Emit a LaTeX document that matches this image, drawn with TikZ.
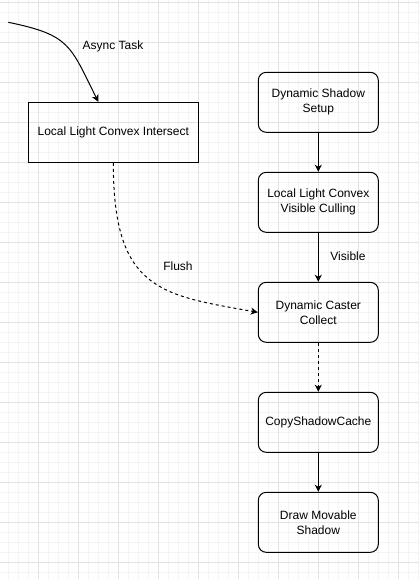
\documentclass[tikz,border=0pt]{standalone}
\usepackage{fontspec}
\setmainfont{Liberation Sans}
\usetikzlibrary{arrows.meta}
\definecolor{gridminor}{HTML}{F4F4F4}
\definecolor{gridmajor}{HTML}{E2E2E2}

\begin{document}
\begin{tikzpicture}[x=1pt,y=-1pt,font=\fontsize{12}{15}\selectfont,
    >={Stealth[length=7pt,width=7pt,inset=2pt]},
    flowbox/.style={draw,line width=1pt,rectangle,align=center,inner sep=0pt,
      minimum width=120pt,minimum height=60pt,rounded corners=8pt},
    taskbox/.style={draw,line width=1pt,rectangle,align=center,inner sep=0pt,
      minimum width=170pt,minimum height=60pt},
    flowline/.style={line width=1pt,->},
    edgelabel/.style={inner sep=0pt}]
      \useasboundingbox (0,0) rectangle (419,579);
      \fill[white] (0,0) rectangle (419,579);
      % grid
      \foreach \gx in {-1.7,8.3,...,420} \draw[gridminor,line width=1pt] (\gx,0) -- (\gx,579);
      \foreach \gy in {2.3,12.3,...,580} \draw[gridminor,line width=1pt] (0,\gy) -- (419,\gy);
      \foreach \gx in {38.3,78.3,...,420} \draw[gridmajor,line width=1pt] (\gx,0) -- (\gx,579);
      \foreach \gy in {2.3,42.3,...,580} \draw[gridmajor,line width=1pt] (0,\gy) -- (419,\gy);
      % nodes
      \node[taskbox] (intersect) at (113.3, 132.3) {Local Light Convex Intersect};
      \node[flowbox] (setup) at (318.3, 102.3) {Dynamic Shadow\\Setup};
      \node[flowbox] (culling) at (318.3, 202.3) {Local Light Convex\\Visible Culling};
      \node[flowbox] (collect) at (318.3, 312.3) {Dynamic Caster\\Collect};
      \node[flowbox] (copycache) at (318.3, 422.3) {CopyShadowCache};
      \node[flowbox] (drawshadow) at (318.3, 522.3) {Draw Movable\\Shadow};
      \coordinate (asyncstart) at (8.3, 22.3);
      % connectors
      \draw[flowline] (asyncstart) .. controls (70, 35) and (70, 45) .. ([xshift=-15pt]intersect.north);
      \node[edgelabel] (asynclabel) at (113, 46.5) {Async Task};
      \draw[flowline,dashed] (intersect.south) .. controls (113.3, 290) and (160, 295) .. (collect.west);
      \node[edgelabel] (flushlabel) at (178, 266.5) {Flush};
      \draw[flowline] (setup) -- (culling);
      \draw[flowline] (culling) -- (collect);
      \node[edgelabel] (visiblelabel) at (348, 256.5) {Visible};
      \draw[flowline,dashed] (collect) -- (copycache);
      \draw[flowline] (copycache) -- (drawshadow);
    \end{tikzpicture}
\end{document}
